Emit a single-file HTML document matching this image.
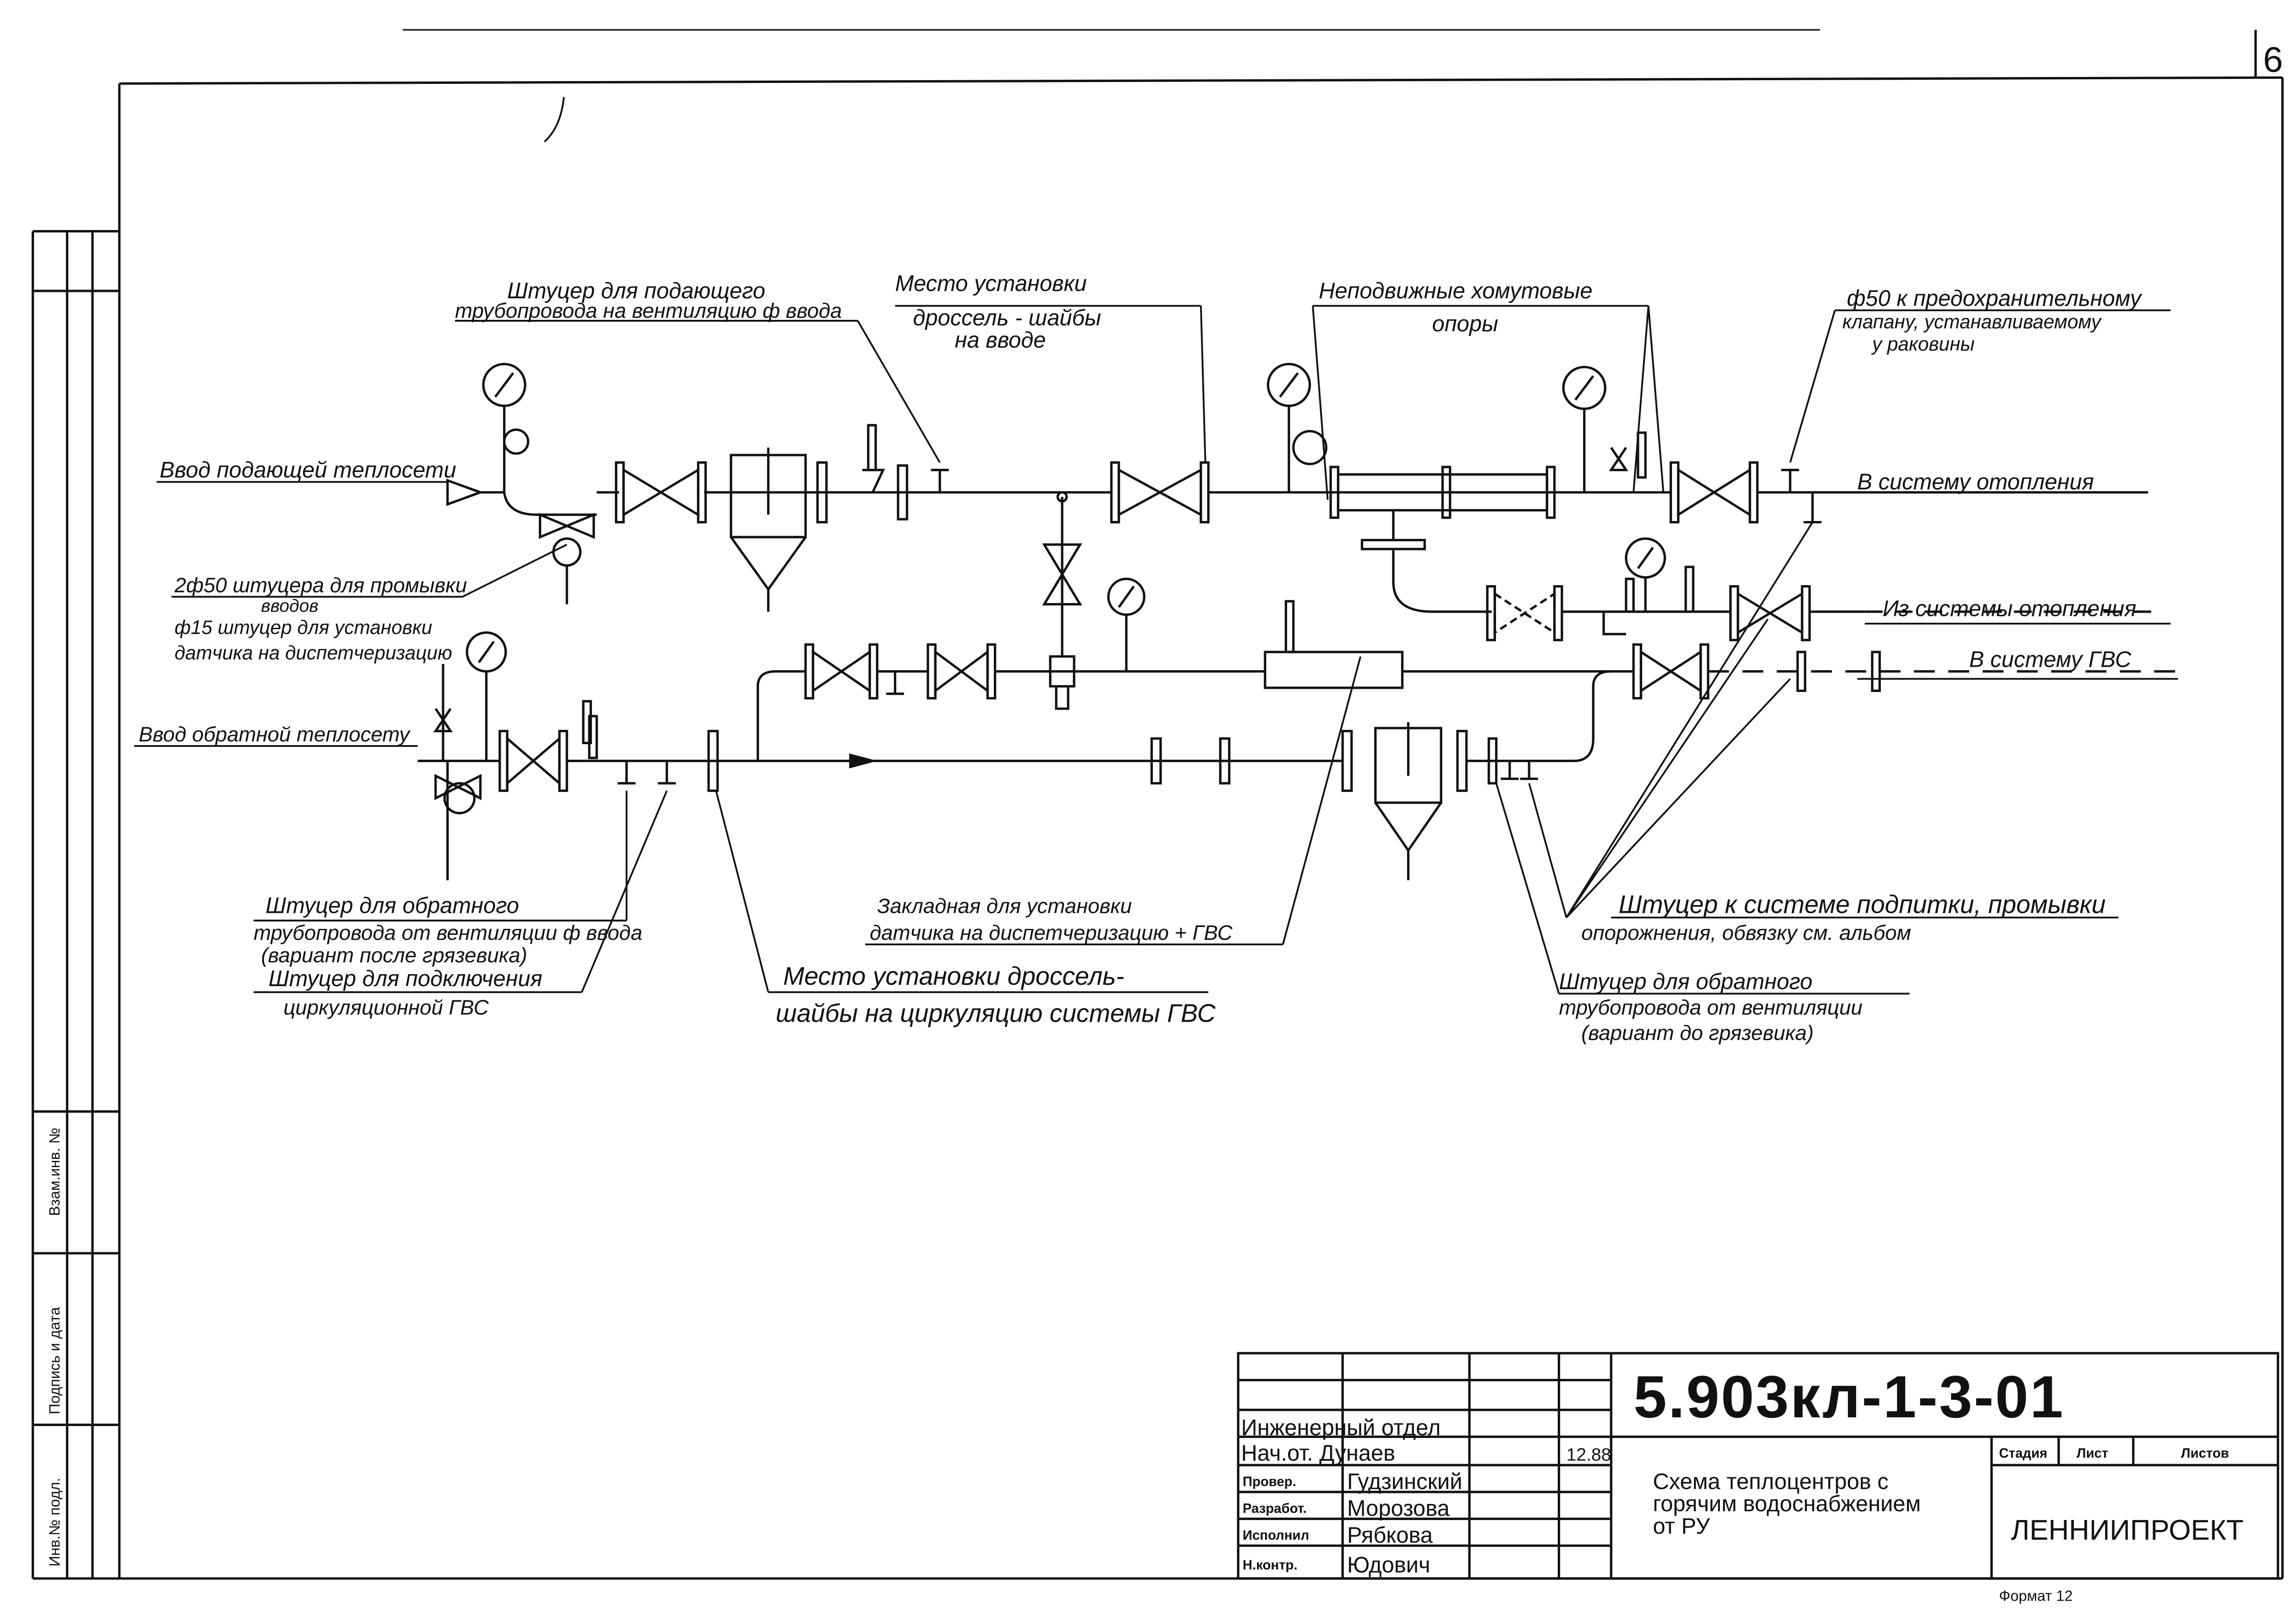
<!DOCTYPE html>
<html><head><meta charset="utf-8"><style>
html,body{margin:0;padding:0;background:#fff}
svg{display:block}
text{font-family:"Liberation Sans","DejaVu Sans",sans-serif;fill:#111}
.h{font-style:italic;font-size:15px}
</style></head><body>
<svg width="5079" height="3544" viewBox="0 0 1560 1088.5" preserveAspectRatio="none" xmlns="http://www.w3.org/2000/svg">
<rect width="1560" height="1089" fill="#fff"/>
<g stroke="#111" stroke-width="1.6" fill="none">
<!-- frame -->
<line x1="80" y1="56" x2="1530" y2="52"/>
<line x1="80" y1="56" x2="80" y2="1058"/>
<line x1="1530" y1="52" x2="1530" y2="1058"/>
<line x1="22" y1="1058" x2="1530" y2="1058"/>
<line x1="1512" y1="20" x2="1512" y2="52"/>
<line x1="270" y1="20" x2="1220" y2="20" stroke-width="1"/>
<!-- left stamp -->
<line x1="22" y1="155" x2="22" y2="1058"/>
<line x1="45" y1="155" x2="45" y2="1058"/>
<line x1="62" y1="155" x2="62" y2="1058"/>
<line x1="22" y1="155" x2="80" y2="155"/>
<line x1="22" y1="195" x2="80" y2="195"/>
<line x1="22" y1="745" x2="80" y2="745"/>
<line x1="22" y1="840" x2="80" y2="840"/>
<line x1="22" y1="955" x2="80" y2="955"/>
<!-- title block -->
<rect x="830" y="907" width="697" height="151"/>
<line x1="1080" y1="907" x2="1080" y2="1058"/>
<line x1="830" y1="925" x2="1080" y2="925"/>
<line x1="830" y1="945" x2="1080" y2="945"/>
<line x1="830" y1="963" x2="1527" y2="963"/>
<line x1="830" y1="982" x2="1080" y2="982"/>
<line x1="830" y1="1000" x2="1080" y2="1000"/>
<line x1="830" y1="1018" x2="1080" y2="1018"/>
<line x1="830" y1="1036" x2="1080" y2="1036"/>
<line x1="1335" y1="982" x2="1527" y2="982"/>
<line x1="900" y1="907" x2="900" y2="1058"/>
<line x1="985" y1="907" x2="985" y2="1058"/>
<line x1="1045" y1="907" x2="1045" y2="1058"/>
<line x1="1335" y1="963" x2="1335" y2="1058"/>
<line x1="1380" y1="963" x2="1380" y2="982"/>
<line x1="1430" y1="963" x2="1430" y2="982"/>

<!-- supply line -->
<polygon points="300,322 322,330 300,338" fill="#fff"/>
<path d="M322,330 H338 Q340,345 360,345 H400 M338,330 V300"/>
<line x1="472" y1="330" x2="745" y2="330"/>
<line x1="810" y1="330" x2="1120" y2="330"/>
<line x1="1178" y1="330" x2="1440" y2="330"/>
<line x1="400" y1="330" x2="415" y2="330"/>
<!-- valve supply 1 -->
<path d="M418,315 L468,345 V315 L418,345 Z"/>
<rect x="413" y="310" width="5" height="40"/><rect x="468" y="310" width="5" height="40"/>
<!-- regulator supply -->
<circle cx="380" cy="370" r="9"/><path d="M362,345 L398,360 V345 L362,360 Z"/>
<line x1="380" y1="379" x2="380" y2="405"/>
<!-- filter -->
<rect x="490" y="305" width="50" height="55"/><path d="M490,360 L515,395 L540,360 M515,395 V410 M515,300 V345"/>
<rect x="548" y="310" width="6" height="40"/><rect x="602" y="312" width="6" height="36"/>
<rect x="582" y="285" width="5" height="30"/><path d="M578,315 H592 L585,330"/>
<path d="M630,330 V315 M624,315 H636"/>
<!-- branch vertical -->
<circle cx="712" cy="333" r="3"/>
<line x1="712" y1="333" x2="712" y2="440"/>
<path d="M700,365 L724,405 H700 L724,365 Z"/>
<rect x="704" y="440" width="16" height="20"/><path d="M708,460 V475 H716 V460"/>
<!-- valve supply 2 -->
<path d="M750,315 L805,345 V315 L750,345 Z"/>
<rect x="745" y="310" width="5" height="40"/><rect x="805" y="310" width="5" height="40"/>
<!-- gauges -->
<circle cx="338" cy="258" r="14"/><path d="M332,266 L344,250"/><line x1="338" y1="272" x2="338" y2="300"/><circle cx="346" cy="296" r="8"/>
<circle cx="864" cy="258" r="14"/><path d="M858,266 L870,250"/><line x1="864" y1="272" x2="864" y2="330"/><circle cx="878" cy="300" r="11"/>
<circle cx="1062" cy="260" r="14"/><path d="M1056,268 L1068,252"/><line x1="1062" y1="274" x2="1062" y2="330"/>
<circle cx="755" cy="400" r="12"/><path d="M750,407 L760,393"/><line x1="755" y1="412" x2="755" y2="450"/>
<circle cx="326" cy="437" r="13"/><path d="M321,444 L331,430"/><line x1="326" y1="450" x2="326" y2="510"/>
<circle cx="1103" cy="374" r="13"/><path d="M1098,381 L1108,367"/><line x1="1103" y1="387" x2="1103" y2="410"/>
<!-- expansion pipe -->
<rect x="897" y="318" width="140" height="24"/>
<rect x="892" y="313" width="5" height="34"/><rect x="967" y="313" width="5" height="34"/><rect x="1037" y="313" width="5" height="34"/>
<rect x="913" y="362" width="42" height="6"/><line x1="934" y1="342" x2="934" y2="362"/>
<rect x="1098" y="290" width="5" height="30"/>
<path d="M1080,300 L1090,315 H1080 L1090,300"/>
<!-- valve supply 3 -->
<path d="M1125,315 L1173,345 V315 L1125,345 Z"/>
<rect x="1120" y="310" width="5" height="40"/><rect x="1173" y="310" width="5" height="40"/>
<path d="M1200,330 V315 M1194,315 H1206"/>
<path d="M1215,330 V350 M1209,350 H1221"/>
<!-- from heating line -->
<path d="M934,368 V390 Q934,410 960,410 H1000"/>
<path d="M1002,398 L1042,424 V398 L1002,424 Z" stroke-dasharray="5,3"/>
<rect x="997" y="393" width="5" height="36"/><rect x="1042" y="393" width="5" height="36"/>
<line x1="1047" y1="410" x2="1160" y2="410"/>
<path d="M1165,398 L1208,424 V398 L1165,424 Z"/>
<rect x="1160" y="393" width="5" height="36"/><rect x="1208" y="393" width="5" height="36"/>
<line x1="1213" y1="410" x2="1250" y2="410"/>
<line x1="1250" y1="410" x2="1445" y2="410" stroke-dasharray="12,8"/>
<rect x="1130" y="380" width="5" height="30"/><rect x="1090" y="388" width="5" height="22"/>
<!-- GVS line -->
<path d="M508,510 V460 Q508,450 520,450 H540"/>
<path d="M545,437 L583,463 V437 L545,463 Z"/>
<rect x="540" y="432" width="5" height="36"/><rect x="583" y="432" width="5" height="36"/>
<line x1="588" y1="450" x2="622" y2="450"/><path d="M600,450 V465 M594,465 H606"/>
<path d="M627,437 L662,463 V437 L627,463 Z"/>
<rect x="622" y="432" width="5" height="36"/><rect x="662" y="432" width="5" height="36"/>
<line x1="667" y1="450" x2="848" y2="450"/>
<rect x="848" y="437" width="92" height="24"/>
<rect x="862" y="403" width="5" height="34"/>
<line x1="940" y1="450" x2="1095" y2="450"/>
<path d="M1100,437 L1140,463 V437 L1100,463 Z"/>
<rect x="1095" y="432" width="5" height="36"/><rect x="1140" y="432" width="5" height="36"/>
<line x1="1145" y1="450" x2="1460" y2="450" stroke-dasharray="14,9"/>
<rect x="1205" y="437" width="5" height="26"/><rect x="1255" y="437" width="5" height="26"/>
<path d="M1075,410 V425 H1090"/>
<!-- return line -->
<line x1="280" y1="510" x2="335" y2="510"/>
<path d="M340,495 L375,525 V495 L340,525 Z"/>
<rect x="335" y="490" width="5" height="40"/><rect x="375" y="490" width="5" height="40"/>
<line x1="380" y1="510" x2="900" y2="510"/>
<polygon points="570,506 585,510 570,514" fill="#111"/>
<rect x="395" y="480" width="5" height="28"/>
<path d="M420,510 V525 M414,525 H426 M447,510 V525 M441,525 H453"/>
<rect x="475" y="490" width="6" height="40"/>
<rect x="772" y="495" width="6" height="30"/><rect x="818" y="495" width="6" height="30"/>
<rect x="900" y="490" width="6" height="40"/><rect x="977" y="490" width="6" height="40"/>
<rect x="922" y="488" width="44" height="50"/><path d="M922,538 L944,570 L966,538 M944,570 V590 M944,484 V520"/>
<line x1="983" y1="510" x2="1055" y2="510"/>
<path d="M1055,510 Q1068,510 1068,495 V460 Q1068,450 1080,450"/>
<rect x="998" y="495" width="5" height="30"/>
<path d="M1012,510 V522 M1006,522 H1018 M1025,510 V522 M1019,522 H1031"/>
<!-- return regulator -->
<line x1="300" y1="510" x2="300" y2="590"/>
<circle cx="308" cy="535" r="10"/><path d="M292,520 L322,535 V520 L292,535 Z"/>
<line x1="297" y1="445" x2="297" y2="510"/><path d="M292,475 L302,490 H292 L302,475"/>
<rect x="391" y="470" width="5" height="28"/>
<!-- leaders -->
<g stroke-width="1.2">
<line x1="305" y1="215" x2="575" y2="215"/><line x1="575" y1="215" x2="630" y2="310"/>
<line x1="600" y1="205" x2="805" y2="205"/><line x1="805" y1="205" x2="808" y2="310"/>
<line x1="880" y1="205" x2="1105" y2="205"/><line x1="880" y1="205" x2="890" y2="335"/>
<line x1="1105" y1="205" x2="1095" y2="330"/><line x1="1105" y1="205" x2="1115" y2="330"/>
<line x1="1230" y1="208" x2="1455" y2="208"/><line x1="1230" y1="208" x2="1200" y2="310"/>
<line x1="1230" y1="330" x2="1420" y2="330"/>
<line x1="105" y1="323" x2="300" y2="323"/>
<line x1="115" y1="400" x2="310" y2="400"/><line x1="310" y1="400" x2="380" y2="365"/>
<line x1="90" y1="500" x2="280" y2="500"/>
<line x1="1250" y1="418" x2="1455" y2="418"/>
<line x1="1245" y1="455" x2="1460" y2="455"/>
<line x1="170" y1="617" x2="420" y2="617"/><line x1="420" y1="617" x2="420" y2="530"/>
<line x1="170" y1="665" x2="390" y2="665"/><line x1="390" y1="665" x2="447" y2="530"/>
<line x1="515" y1="665" x2="810" y2="665"/><line x1="515" y1="665" x2="480" y2="530"/>
<line x1="580" y1="633" x2="860" y2="633"/><line x1="860" y1="633" x2="912" y2="440"/>
<line x1="1080" y1="615" x2="1420" y2="615"/><line x1="1050" y1="615" x2="1025" y2="525"/>
<line x1="1050" y1="615" x2="1185" y2="415"/><line x1="1050" y1="615" x2="1200" y2="455"/><line x1="1050" y1="615" x2="1215" y2="350"/>
<line x1="1045" y1="666" x2="1280" y2="666"/><line x1="1045" y1="666" x2="1003" y2="525"/>
<path d="M378,65 Q376,85 365,95"/>
</g>
</g>
<!-- labels -->
<g class="h">
<text x="340" y="200">Штуцер для подающего</text>
<text x="305" y="213" font-size="14">трубопровода на вентиляцию ф ввода</text>
<text x="600" y="195">Место установки</text>
<text x="612" y="218">дроссель - шайбы</text>
<text x="640" y="233">на вводе</text>
<text x="884" y="200">Неподвижные хомутовые</text>
<text x="960" y="222">опоры</text>
<text x="1238" y="205">ф50 к предохранительному</text>
<text x="1235" y="220" font-size="13">клапану, устанавливаемому</text>
<text x="1255" y="235" font-size="13">у раковины</text>
<text x="107" y="320">Ввод подающей теплосети</text>
<text x="1245" y="328">В систему отопления</text>
<text x="1262" y="413">Из системы отопления</text>
<text x="1320" y="447">В систему ГВС</text>
<text x="117" y="397" font-size="14">2ф50 штуцера для промывки</text>
<text x="175" y="410" font-size="12">вводов</text>
<text x="117" y="425" font-size="13">ф15 штуцер для установки</text>
<text x="117" y="442" font-size="13">датчика на диспетчеризацию</text>
<text x="93" y="497" font-size="14">Ввод обратной теплосету</text>
<text x="178" y="612">Штуцер для обратного</text>
<text x="170" y="630" font-size="14">трубопровода от вентиляции ф ввода</text>
<text x="175" y="645" font-size="14">(вариант после грязевика)</text>
<text x="180" y="661">Штуцер для подключения</text>
<text x="190" y="680" font-size="14">циркуляционной ГВС</text>
<text x="525" y="660" font-size="17">Место установки дроссель-</text>
<text x="520" y="685" font-size="17">шайбы на циркуляцию системы ГВС</text>
<text x="588" y="612" font-size="14">Закладная для установки</text>
<text x="583" y="630" font-size="14">датчика на диспетчеризацию + ГВС</text>
<text x="1085" y="612" font-size="17">Штуцер к системе подпитки, промывки</text>
<text x="1060" y="630" font-size="14">опорожнения, обвязку см. альбом</text>
<text x="1045" y="663">Штуцер для обратного</text>
<text x="1045" y="680" font-size="14">трубопровода от вентиляции</text>
<text x="1060" y="697" font-size="14">(вариант до грязевика)</text>
</g>
<text x="1517" y="48" font-size="24">6</text>
<g font-size="10" transform="rotate(-90)">
<text x="-815" y="40">Взам.инв. №</text>
<text x="-948" y="40">Подпись и дата</text>
<text x="-1050" y="40">Инв.№ подл.</text>
</g>
<!-- title text -->
<g font-family="Liberation Serif" font-size="15">
<text x="832" y="962">Инженерный отдел</text>
<text x="832" y="979">Нач.от. Дунаев</text>
<text x="903" y="998">Гудзинский</text>
<text x="903" y="1016">Морозова</text>
<text x="903" y="1034">Рябкова</text>
<text x="903" y="1054">Юдович</text>
<text x="1050" y="979" font-size="12">12.88</text>
</g>
<g font-size="9" font-weight="bold">
<text x="833" y="996">Провер.</text>
<text x="833" y="1014">Разработ.</text>
<text x="833" y="1032">Исполнил</text>
<text x="833" y="1052">Н.контр.</text>
<text x="1340" y="977">Стадия</text>
<text x="1392" y="977">Лист</text>
<text x="1462" y="977">Листов</text>
</g>
<text x="1095" y="950" font-size="40" font-weight="bold" letter-spacing="1">5.903кл-1-3-01</text>
<g font-family="Liberation Mono" font-size="15">
<text x="1108" y="998">Схема теплоцентров с</text>
<text x="1108" y="1013">горячим водоснабжением</text>
<text x="1108" y="1028">от РУ</text>
</g>
<text x="1348" y="1032" font-size="19">ЛЕННИИПРОЕКТ</text>
<text x="1340" y="1073" font-size="10">Формат 12</text>
</svg>
</body></html>
